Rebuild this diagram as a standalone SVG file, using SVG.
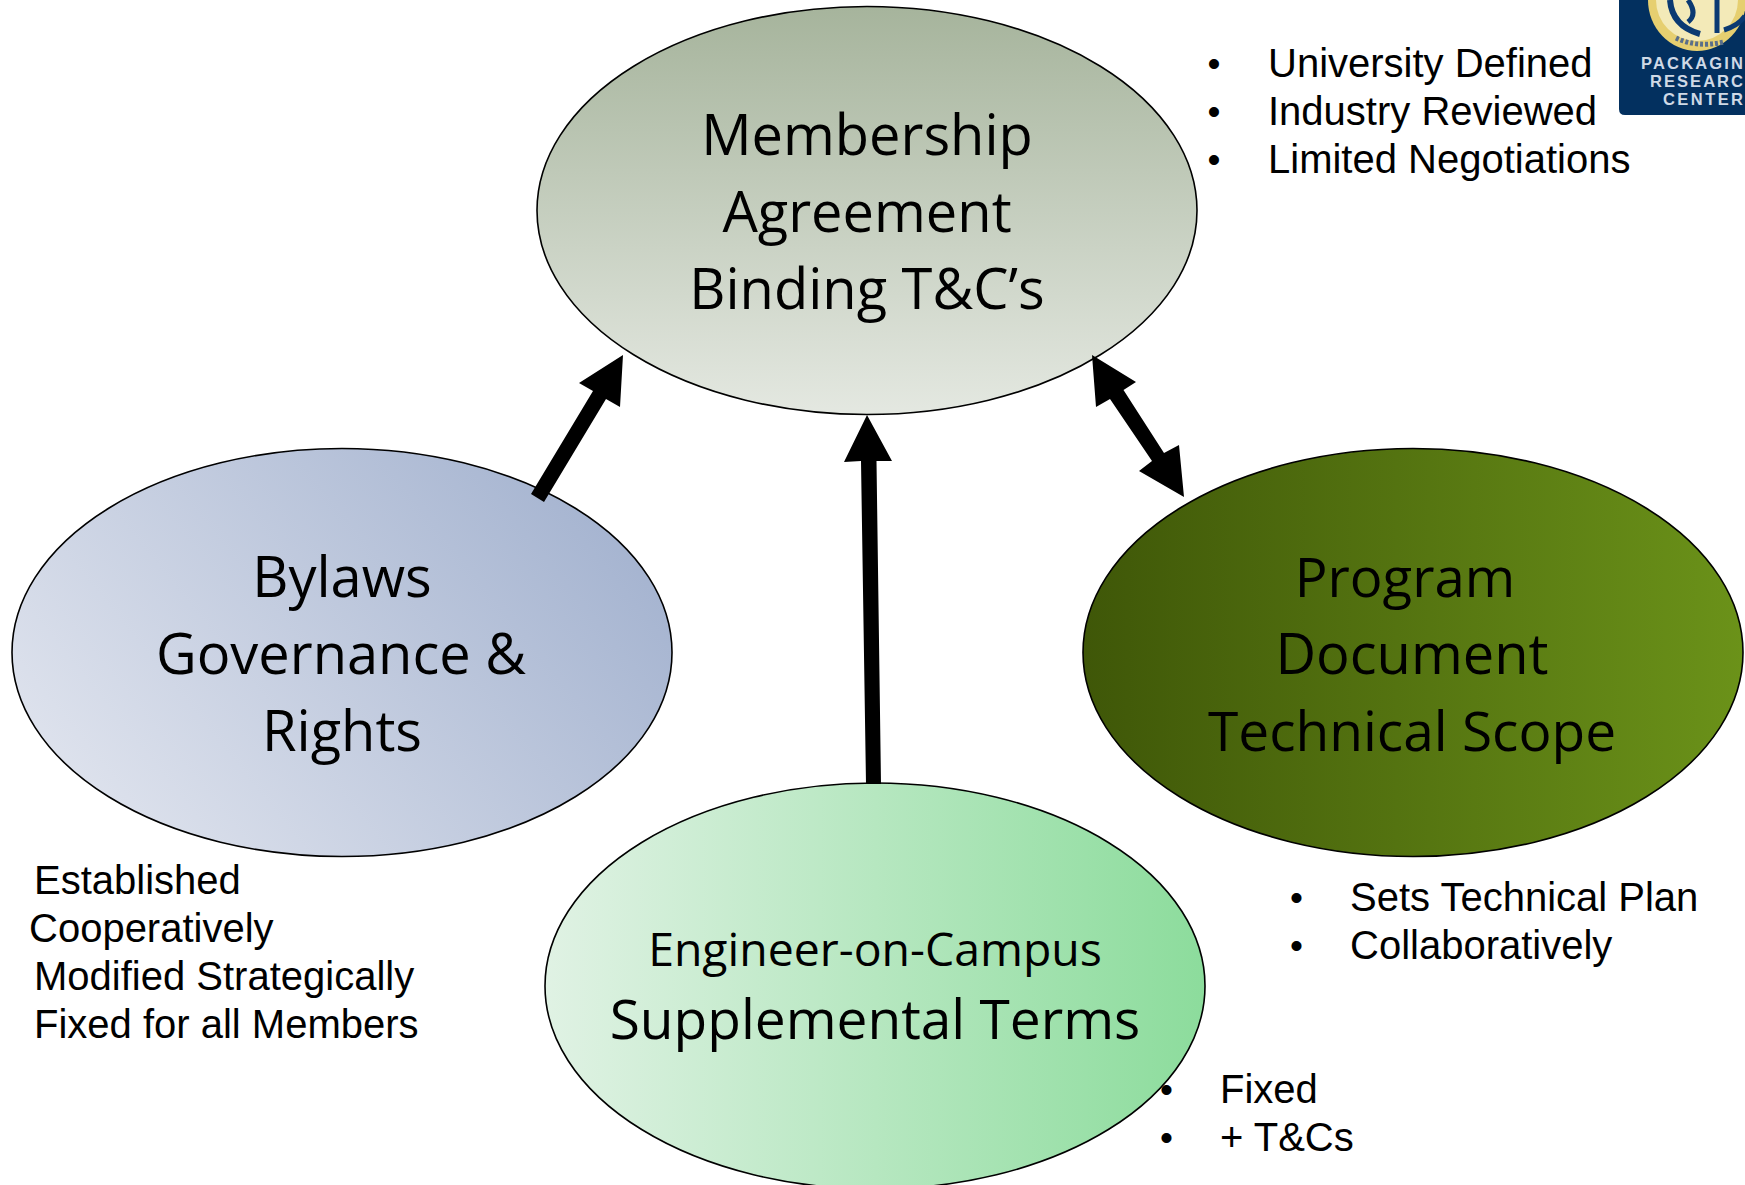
<svg xmlns="http://www.w3.org/2000/svg" width="1745" height="1185" viewBox="0 0 1745 1185">
<defs>
<linearGradient id="g1" x1="0" y1="0" x2="0" y2="1"><stop offset="0" stop-color="#a6b49c"/><stop offset="1" stop-color="#e4e8e1"/></linearGradient>
<linearGradient id="g2" x1="0" y1="0.75" x2="1" y2="0.25"><stop offset="0" stop-color="#e0e4ee"/><stop offset="1" stop-color="#a3b2cf"/></linearGradient>
<linearGradient id="g3" x1="0" y1="0" x2="1" y2="0"><stop offset="0" stop-color="#3f5708"/><stop offset="1" stop-color="#6b9219"/></linearGradient>
<linearGradient id="g4" x1="0" y1="0" x2="1" y2="0"><stop offset="0" stop-color="#e0f2e4"/><stop offset="1" stop-color="#8cdc9c"/></linearGradient>
<style>
.e{stroke:#000;stroke-width:1.6}
.t{font-family:"Open Sans","Noto Sans",sans-serif;font-size:56px;fill:#000;text-anchor:middle}
.b{font-family:"Liberation Sans",Arial,sans-serif;font-size:40px;fill:#000}
.d{font-family:"Liberation Sans",Arial,sans-serif;font-size:37px;fill:#000}
.c{fill:#000;stroke:none}
.l{font-family:"Liberation Sans",Arial,sans-serif;font-size:16.5px;font-weight:bold;fill:#cfd9e6}
</style>
</defs>
<g id="membership"><ellipse class="e" cx="867" cy="210.500" rx="330" ry="204" fill="url(#g1)"/>
<text class="t" x="867" y="155">Membership</text><text class="t" x="867" y="232">Agreement</text><text class="t" x="867" y="309">Binding T&amp;C’s</text></g>
<g id="bylaws"><ellipse class="e" cx="342" cy="652.500" rx="330" ry="204" fill="url(#g2)"/>
<text class="t" x="342" y="597">Bylaws</text><text class="t" x="341" y="674">Governance &amp;</text><text class="t" x="342" y="751">Rights</text></g>
<g id="program"><ellipse class="e" cx="1413" cy="652.500" rx="330" ry="204" fill="url(#g3)"/>
<text class="t" x="1405" y="597" style="font-size:54.500px">Program</text><text class="t" x="1412" y="674">Document</text><text class="t" x="1412" y="751" style="font-size:55px">Technical Scope</text></g>
<g id="engineer"><ellipse class="e" cx="875" cy="986" rx="330" ry="203" fill="url(#g4)"/>
<text class="t" x="875" y="966" style="font-size:46.400px">Engineer-on-Campus</text><text class="t" x="875" y="1039" style="font-size:55px">Supplemental Terms</text></g>
<g id="connectors">
<polygon class="c" points="531,494 593,391 579,383 623,355 620,407 606,399 544,502"/>
<polygon class="c" points="866,784 861,461 844,462 867,415 892,461 876.500,461 881,784"/>
<polygon class="c" points="1092,355 1136,382 1123.500,390 1164,453 1179,445 1184,497 1139,471 1152,461 1110,399 1096,407"/>
</g>
<g id="logo">
<path d="M1619 0H1745V115H1625Q1619 115 1619 109Z" fill="#03305f"/>
<ellipse cx="1697" cy="0" rx="49" ry="51" fill="#e6cf70"/>
<ellipse cx="1697" cy="0" rx="41" ry="41" fill="#f3eab8"/>
<path d="M1670 0Q1672 26 1700 34" fill="none" stroke="#0b3a72" stroke-width="6"/>
<path d="M1688 0Q1698 14 1688 22" fill="none" stroke="#0b3a72" stroke-width="5"/>
<path d="M1717 0V33" fill="none" stroke="#0b3a72" stroke-width="5"/>
<path d="M1724 30Q1738 26 1745 16" fill="none" stroke="#0b3a72" stroke-width="5"/>
<path d="M1676 38Q1697 48 1724 42" fill="none" stroke="#5a6f8a" stroke-width="5" stroke-dasharray="3 2"/>
<text class="l" x="1641" y="69" textLength="102">PACKAGIN</text><text class="l" x="1650" y="87" textLength="93">RESEARC</text><text class="l" x="1663" y="105" textLength="80">CENTER</text>
</g>
<g id="notes">
<text class="b" x="1268" y="77">University Defined</text><text class="b" x="1268" y="125">Industry Reviewed</text><text class="b" x="1268" y="173">Limited Negotiations</text>
<text class="d" x="1207.500" y="76">•</text><text class="d" x="1207.500" y="124">•</text><text class="d" x="1207.500" y="172">•</text>
<text class="b" x="34" y="894">Established</text><text class="b" x="29" y="942">Cooperatively</text><text class="b" x="34" y="990">Modified Strategically</text><text class="b" x="34" y="1038">Fixed for all Members</text>
<text class="d" x="1290" y="910">•</text><text class="d" x="1290" y="958">•</text><text class="b" x="1350" y="911">Sets Technical Plan</text><text class="b" x="1350" y="959">Collaboratively</text>
<text class="d" x="1160" y="1102">•</text><text class="d" x="1160" y="1150">•</text><text class="b" x="1220" y="1103">Fixed</text><text class="b" x="1220" y="1151">+ T&amp;Cs</text>
</g>
</svg>
